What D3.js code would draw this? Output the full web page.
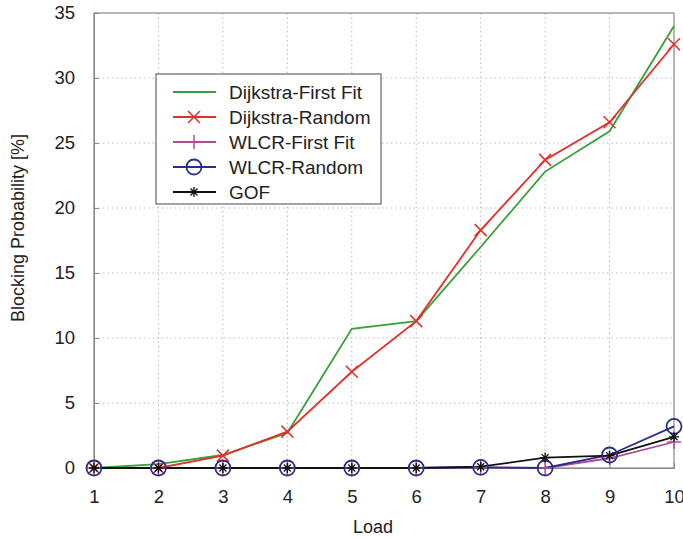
<!DOCTYPE html>
<html>
<head>
<meta charset="utf-8">
<script src="https://cdn.jsdelivr.net/npm/d3@7"></script>
<style>
body { margin: 0; background: #fff; }
svg text { font-family: "Liberation Sans", Arial, sans-serif; fill: #222; }
</style>
</head>
<body>
<div id="chart"></div>
<script>
var loads = [1, 2, 3, 4, 5, 6, 7, 8, 9, 10];
var dijkstraFirstFit = [0, 0.3, 1.0, 2.7, 10.7, 11.3, 17.0, 22.8, 25.9, 34.0];
var dijkstraRandom = [0, 0, 0.95, 2.8, 7.4, 11.3, 18.3, 23.7, 26.6, 32.6];
var wlcrFirstFit = [0, 0, 0, 0, 0, 0, 0.05, 0, 0.75, 2.0];
var wlcrRandom = [0, 0, 0, 0, 0, 0, 0.05, 0, 1.0, 3.2];
var gof = [0, 0, 0, 0, 0, 0, 0.1, 0.8, 0.95, 2.4];
var yTicks = [0, 5, 10, 15, 20, 25, 30, 35];

var series = [
    {name: "Dijkstra-First Fit", values: dijkstraFirstFit, color: "#37a03a", marker: "none"},
    {name: "Dijkstra-Random", values: dijkstraRandom, color: "#e2302a", marker: "x"},
    {name: "WLCR-First Fit", values: wlcrFirstFit, color: "#b04c98", marker: "plus"},
    {name: "WLCR-Random", values: wlcrRandom, color: "#2c2c8c", marker: "circle"},
    {name: "GOF", values: gof, color: "#111", marker: "star"}
];

var w = 683, h = 539,
    padLeft = 94, padRight = 674, padTop = 13, padBottom = 468;

var svg = d3.select("#chart").append("svg")
    .attr("width", w)
    .attr("height", h);

var x = d3.scaleLinear().domain([1, 10]).range([padLeft, padRight]);
var y = d3.scaleLinear().domain([0, 35]).range([padBottom, padTop]);

// grid
svg.append("g").selectAll("line")
    .data(loads.slice(1, -1))
    .enter().append("line")
    .attr("x1", function (d) { return x(d); })
    .attr("x2", function (d) { return x(d); })
    .attr("y1", padTop).attr("y2", padBottom)
    .attr("stroke", "#bbb").attr("stroke-dasharray", "1.5,3");
svg.append("g").selectAll("line")
    .data(yTicks.slice(1, -1))
    .enter().append("line")
    .attr("y1", function (d) { return y(d); })
    .attr("y2", function (d) { return y(d); })
    .attr("x1", padLeft).attr("x2", padRight)
    .attr("stroke", "#bbb").attr("stroke-dasharray", "1.5,3");

// axes
var xAxis = d3.axisBottom(x).tickValues(loads).tickSizeInner(-5).tickSizeOuter(0).tickPadding(22);
var yAxis = d3.axisLeft(y).tickValues(yTicks).tickSizeInner(-5).tickSizeOuter(0).tickPadding(19);

var gx = svg.append("g").attr("transform", "translate(0," + padBottom + ")").call(xAxis);
var gy = svg.append("g").attr("transform", "translate(" + padLeft + ",0)").call(yAxis);
[gx, gy].forEach(function (g) {
    g.selectAll("path, line").attr("stroke", "#888");
    g.selectAll("text").style("font-size", "18.5px").attr("fill", "#222");
});

// frame
svg.append("rect")
    .attr("x", padLeft).attr("y", padTop)
    .attr("width", padRight - padLeft).attr("height", padBottom - padTop)
    .attr("fill", "none").attr("stroke", "#888").attr("stroke-width", 1.2);

// axis labels
svg.append("text")
    .attr("x", 373).attr("y", 533)
    .attr("text-anchor", "middle")
    .style("font-size", "18px")
    .text("Load");
svg.append("text")
    .attr("transform", "translate(24,228) rotate(-90)")
    .attr("text-anchor", "middle")
    .style("font-size", "18px")
    .text("Blocking Probability [%]");

function drawMarker(g, type, color) {
    if (type == "x") {
        g.append("path").attr("d", "M-6,-6L6,6M-6,6L6,-6").attr("stroke", color).attr("stroke-width", 1.5);
    } else if (type == "plus") {
        g.append("path").attr("d", "M-7,0L7,0M0,-7L0,7").attr("stroke", color).attr("stroke-width", 1.5);
    } else if (type == "circle") {
        g.append("circle").attr("r", 7.5).attr("fill", "none").attr("stroke", color).attr("stroke-width", 1.8);
    } else if (type == "star") {
        g.append("path").attr("d", "M-5,0L5,0M0,-5L0,5M-3.5,-3.5L3.5,3.5M-3.5,3.5L3.5,-3.5")
            .attr("stroke", color).attr("stroke-width", 1.3);
    }
}

var line = d3.line()
    .x(function (d, i) { return x(loads[i]); })
    .y(function (d) { return y(d); });

var plot = svg.append("g");
series.forEach(function (s) {
    plot.append("path")
        .attr("d", line(s.values))
        .attr("fill", "none")
        .attr("stroke", s.color)
        .attr("stroke-width", 1.8);
});
series.forEach(function (s) {
    if (s.marker == "none") return;
    s.values.forEach(function (v, i) {
        var g = plot.append("g").attr("transform", "translate(" + x(loads[i]) + "," + y(v) + ")");
        drawMarker(g, s.marker, s.color);
    });
});

// legend
var lx = 156, ly = 74;
var legend = svg.append("g");
legend.append("rect")
    .attr("x", lx).attr("y", ly).attr("width", 225).attr("height", 130)
    .attr("fill", "#fff").attr("stroke", "#666").attr("stroke-width", 1.2);
series.forEach(function (s, i) {
    var yy = ly + 18 + i * 25;
    legend.append("line")
        .attr("x1", lx + 17).attr("x2", lx + 60)
        .attr("y1", yy).attr("y2", yy)
        .attr("stroke", s.color).attr("stroke-width", 1.8);
    drawMarker(legend.append("g").attr("transform", "translate(" + (lx + 38) + "," + yy + ")"), s.marker, s.color);
    legend.append("text")
        .attr("x", lx + 73).attr("y", yy + 7)
        .style("font-size", "19px")
        .text(s.name);
});
</script>
</body>
</html>
